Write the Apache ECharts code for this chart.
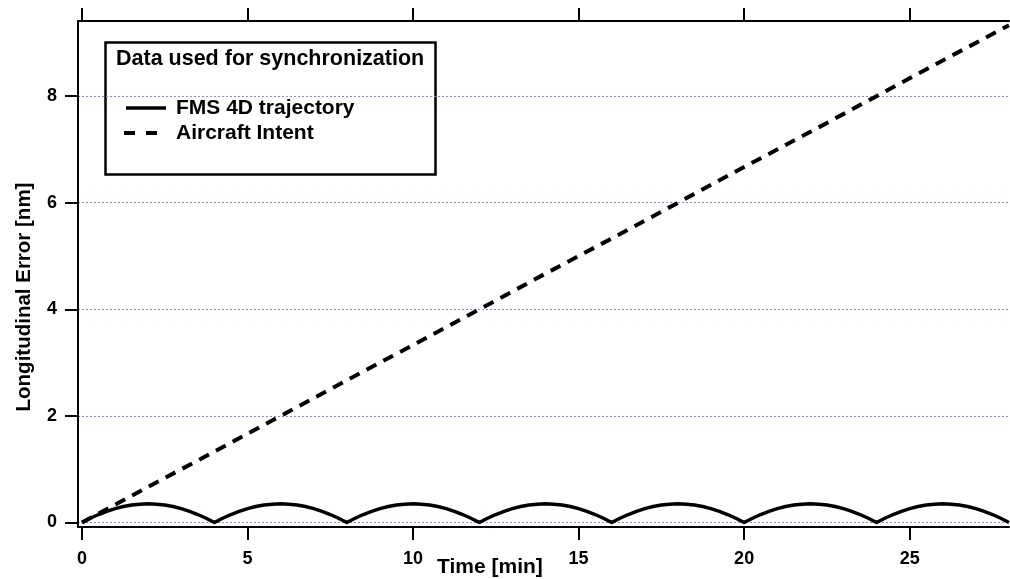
<!DOCTYPE html>
<html>
<head>
<meta charset="utf-8">
<script src="https://cdn.jsdelivr.net/npm/echarts@6/dist/echarts.min.js"></script>
<style>html,body{margin:0;padding:0;background:#fff}#c{width:1010px;height:579px}</style>
</head>
<body>
<div id="c"></div>
<script>
// ---- Data ----
const xTickValues = [0, 5, 10, 15, 20, 25];
const yTickValues = [0, 2, 4, 6, 8];

// FMS 4D trajectory: longitudinal error [nm] at quarter-minute times
const fmsTime = [
  0,0.25,0.5,0.75,1,1.25,1.5,1.75,2,2.25,2.5,2.75,3,3.25,3.5,3.75,
  4,4.25,4.5,4.75,5,5.25,5.5,5.75,6,6.25,6.5,6.75,7,7.25,7.5,7.75,
  8,8.25,8.5,8.75,9,9.25,9.5,9.75,10,10.25,10.5,10.75,11,11.25,11.5,11.75,
  12,12.25,12.5,12.75,13,13.25,13.5,13.75,14,14.25,14.5,14.75,15,15.25,15.5,15.75,
  16,16.25,16.5,16.75,17,17.25,17.5,17.75,18,18.25,18.5,18.75,19,19.25,19.5,19.75,
  20,20.25,20.5,20.75,21,21.25,21.5,21.75,22,22.25,22.5,22.75,23,23.25,23.5,23.75,
  24,24.25,24.5,24.75,25,25.25,25.5,25.75,26,26.25,26.5,26.75,27,27.25,27.5,27.75,
  28
];
const fmsError = [
  0,0.08,0.15,0.21,0.26,0.3,0.33,0.345,0.35,0.345,0.33,0.3,0.26,0.21,0.15,0.08,
  0,0.08,0.15,0.21,0.26,0.3,0.33,0.345,0.35,0.345,0.33,0.3,0.26,0.21,0.15,0.08,
  0,0.08,0.15,0.21,0.26,0.3,0.33,0.345,0.35,0.345,0.33,0.3,0.26,0.21,0.15,0.08,
  0,0.08,0.15,0.21,0.26,0.3,0.33,0.345,0.35,0.345,0.33,0.3,0.26,0.21,0.15,0.08,
  0,0.08,0.15,0.21,0.26,0.3,0.33,0.345,0.35,0.345,0.33,0.3,0.26,0.21,0.15,0.08,
  0,0.08,0.15,0.21,0.26,0.3,0.33,0.345,0.35,0.345,0.33,0.3,0.26,0.21,0.15,0.08,
  0,0.08,0.15,0.21,0.26,0.3,0.33,0.345,0.35,0.345,0.33,0.3,0.26,0.21,0.15,0.08,
  0
];

// Aircraft Intent: longitudinal error [nm]
const intentTime  = [0, 2, 4, 6, 8, 10, 12, 14, 16, 18, 20, 22, 24, 26, 28];
const intentError = [0, 0.67, 1.33, 2.0, 2.67, 3.33, 4.0, 4.67, 5.33, 6.0, 6.67, 7.33, 8.0, 8.67, 9.33];

const seriesNames = ['FMS 4D trajectory', 'Aircraft Intent'];
const legendTitle = 'Data used for synchronization';
const xAxisTitle = 'Time [min]';
const yAxisTitle = 'Longitudinal Error [nm]';

// ---- Chart ----
const FONT = '"Liberation Sans", Arial, Helvetica, sans-serif';
const chart = echarts.init(document.getElementById('c'), null, {renderer: 'canvas'});

const fmsData = fmsTime.map((t, i) => [t, fmsError[i]]);
const intentData = intentTime.map((t, i) => [t, intentError[i]]);

const axisLineStyle = {color: '#000', width: 2};

chart.setOption({
  animation: false,
  backgroundColor: '#fff',
  grid: {left: 78, right: 1, top: 21, bottom: 52, containLabel: false},
  xAxis: [{
    type: 'value', position: 'bottom', min: -0.12, max: 28,
    axisLine: {show: true, onZero: false, lineStyle: axisLineStyle},
    axisTick: {show: true, inside: false, length: 13, lineStyle: {color: '#000', width: 2}, customValues: xTickValues},
    axisLabel: {show: true, margin: 23, color: '#000', fontFamily: FONT, fontWeight: 'bold', fontSize: 18, customValues: xTickValues},
    splitLine: {show: false}
  }, {
    type: 'value', position: 'top', min: -0.12, max: 28,
    axisLine: {show: true, onZero: false, lineStyle: axisLineStyle},
    axisTick: {show: true, inside: false, length: 13, lineStyle: {color: '#000', width: 2}, customValues: xTickValues},
    axisLabel: {show: false},
    splitLine: {show: false}
  }],
  yAxis: [{
    type: 'value', min: -0.084, max: 9.41,
    axisLine: {show: true, onZero: false, lineStyle: axisLineStyle},
    axisTick: {show: true, inside: false, length: 13, lineStyle: {color: '#000', width: 2}, customValues: yTickValues},
    axisLabel: {show: true, margin: 21, color: '#000', fontFamily: FONT, fontWeight: 'bold', fontSize: 18, customValues: yTickValues},
    splitLine: {show: true, lineStyle: {color: '#8a8ad8', width: 1, type: [2, 2]}}
  }],
  series: [{
    name: seriesNames[0], type: 'line', data: fmsData, showSymbol: false, symbol: 'none',
    lineStyle: {color: '#000', width: 3.5, cap: 'butt', join: 'round'}, z: 3
  }, {
    name: seriesNames[1], type: 'line', data: intentData, showSymbol: false, symbol: 'none',
    lineStyle: {color: '#000', width: 4, type: [11, 8], cap: 'butt'}, z: 4
  }],
  graphic: [
    {type: 'text', left: 437, top: 557, style: {text: xAxisTitle, fill: '#000', font: 'bold 21px ' + FONT}},
    {type: 'text', x: 24, y: 297, rotation: Math.PI / 2,
      style: {text: yAxisTitle, fill: '#000', font: 'bold 20.5px ' + FONT, align: 'center', verticalAlign: 'middle'}},
    {type: 'group', z: 100, children: [
      {type: 'rect', shape: {x: 105.5, y: 42.5, width: 330, height: 132}, style: {fill: '#fff', stroke: '#000', lineWidth: 2.5}},
      {type: 'text', x: 116, y: 59, style: {text: legendTitle, fill: '#000', font: 'bold 21.5px ' + FONT, verticalAlign: 'middle'}},
      {type: 'line', shape: {x1: 126, y1: 108, x2: 166, y2: 108}, style: {stroke: '#000', lineWidth: 3.5}},
      {type: 'text', x: 176, y: 108, style: {text: seriesNames[0], fill: '#000', font: 'bold 21px ' + FONT, verticalAlign: 'middle'}},
      {type: 'line', shape: {x1: 124, y1: 133, x2: 157, y2: 133}, style: {stroke: '#000', lineWidth: 4, lineDash: [11, 11]}},
      {type: 'text', x: 176, y: 133, style: {text: seriesNames[1], fill: '#000', font: 'bold 21px ' + FONT, verticalAlign: 'middle'}}
    ]}
  ]
});
</script>
</body>
</html>
